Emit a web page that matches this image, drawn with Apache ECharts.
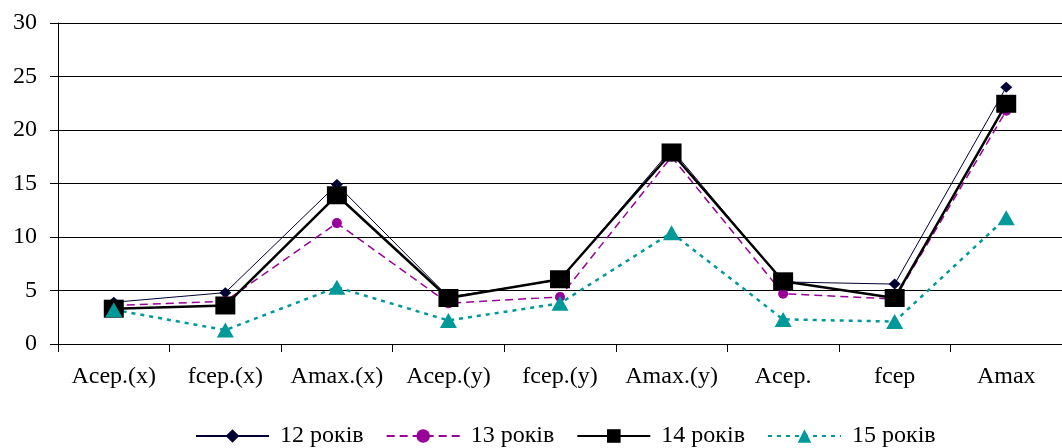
<!DOCTYPE html>
<html>
<head>
<meta charset="utf-8">
<script src="https://cdn.jsdelivr.net/npm/echarts@6/dist/echarts.min.js"></script>
<style>html,body{margin:0;padding:0;background:#fff;}#c{width:1062px;height:448px;}</style>
</head>
<body>
<div id="c"></div>
<script>
const categories = ['Acep.(x)', 'fcep.(x)', 'Amax.(x)', 'Acep.(y)', 'fcep.(y)', 'Amax.(y)', 'Acep.', 'fcep', 'Amax'];
const seriesNames = ['12 років', '13 років', '14 років', '15 років'];
const age12 = [3.9, 4.8, 14.9, 4.4, 6.0, 18.2, 5.8, 5.6, 24.0];
const age13 = [3.6, 4.0, 11.3, 3.8, 4.4, 17.5, 4.7, 4.2, 21.8];
const age14 = [3.3, 3.6, 13.9, 4.3, 6.05, 17.9, 5.86, 4.3, 22.45];
const age15 = [3.2, 1.3, 5.3, 2.2, 3.8, 10.4, 2.3, 2.1, 11.8];
const yTicks = { min: 0, max: 30, interval: 5 };

const FONT = 'Liberation Serif';
const chart = echarts.init(document.getElementById('c'), null, { renderer: 'canvas' });

function mk(name, data, color, width, type, symbol, size) {
  return {
    name: name, type: 'line', data: data,
    symbol: symbol, symbolSize: size, showSymbol: true,
    lineStyle: { color: color, width: width, type: type },
    itemStyle: { color: color, borderWidth: 0 },
    emphasis: { disabled: true },
    animation: false
  };
}

chart.setOption({
  animation: false,
  backgroundColor: '#ffffff',
  grid: { left: 58, top: 23, right: -8, bottom: 104, containLabel: false },
  legend: {
    data: seriesNames,
    left: 190, top: 419,
    itemWidth: 73, itemHeight: 17, itemGap: 22,
    textStyle: { fontFamily: FONT, fontSize: 24, color: '#000', padding: [0, 0, 0, 6] }
  },
  xAxis: {
    type: 'category', data: categories, boundaryGap: true,
    axisLine: { lineStyle: { color: '#000', width: 1 } },
    axisTick: { show: true, length: 8, inside: false, alignWithLabel: false, lineStyle: { color: '#000' } },
    axisLabel: { fontFamily: FONT, fontSize: 24, color: '#000', margin: 21, interval: 0 },
    splitLine: { show: false }
  },
  yAxis: {
    type: 'value', min: yTicks.min, max: yTicks.max, interval: yTicks.interval,
    axisLine: { show: true, lineStyle: { color: '#000', width: 1 } },
    axisTick: { show: true, length: 8, lineStyle: { color: '#000' } },
    axisLabel: { fontFamily: FONT, fontSize: 24, color: '#000', margin: 21 },
    splitLine: { show: true, lineStyle: { color: '#000', width: 1 } }
  },
  series: [
    mk(seriesNames[0], age12, '#000033', 1, 'solid', 'diamond', [12, 11]),
    mk(seriesNames[1], age13, '#990099', 1.5, [8, 5], 'circle', 10),
    mk(seriesNames[2], age14, '#000000', 2.5, 'solid', 'rect', [20, 18]),
    mk(seriesNames[3], age15, '#009999', 2.5, [4, 5], 'triangle', [17, 15])
  ]
});
</script>
</body>
</html>
